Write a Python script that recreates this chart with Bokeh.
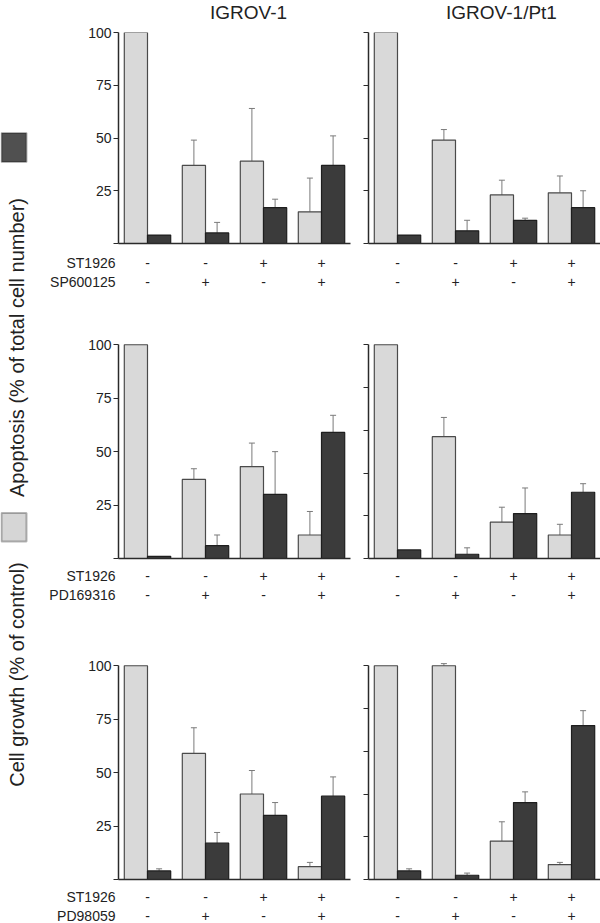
import numpy as np
from bokeh.plotting import figure
from bokeh.models import Range1d, FixedTicker, ColumnDataSource, Whisker, TeeHead, BoxAnnotation
from bokeh.core.properties import value
from bokeh.layouts import row, column
from bokeh.embed import file_html
from bokeh.resources import INLINE

# ---------------- data ----------------
cell_lines = ["IGROV-1", "IGROV-1/Pt1"]
st1926 = ["-", "-", "+", "+"]
inhib_signs = ["-", "+", "-", "+"]
inhibitors = ["SP600125", "PD169316", "PD98059"]
treat_name = "ST1926"

# light bars: cell growth (% of control); dark bars: apoptosis (% of total cell number)
growth_sp_igrov = [100, 37, 39, 15]
growth_sp_igrov_err = [0, 12, 25, 16]
apopt_sp_igrov = [4, 5, 17, 37]
apopt_sp_igrov_err = [0, 5, 4, 14]
growth_sp_pt1 = [100, 49, 23, 24]
growth_sp_pt1_err = [0, 5, 7, 8]
apopt_sp_pt1 = [4, 6, 11, 17]
apopt_sp_pt1_err = [0, 5, 1, 8]

growth_pd169_igrov = [100, 37, 43, 11]
growth_pd169_igrov_err = [0, 5, 11, 11]
apopt_pd169_igrov = [1, 6, 30, 59]
apopt_pd169_igrov_err = [0, 5, 20, 8]
growth_pd169_pt1 = [100, 57, 17, 11]
growth_pd169_pt1_err = [0, 9, 7, 5]
apopt_pd169_pt1 = [4, 2, 21, 31]
apopt_pd169_pt1_err = [0, 3, 12, 4]

growth_pd98_igrov = [100, 59, 40, 6]
growth_pd98_igrov_err = [0, 12, 11, 2]
apopt_pd98_igrov = [4, 17, 30, 39]
apopt_pd98_igrov_err = [1, 5, 6, 9]
growth_pd98_pt1 = [100, 100, 18, 7]
growth_pd98_pt1_err = [0, 1, 9, 1]
apopt_pd98_pt1 = [4, 2, 36, 72]
apopt_pd98_pt1_err = [1, 1, 5, 7]

yticks_25 = [0, 25, 50, 75, 100]
yticks_20 = [0, 20, 40, 60, 80, 100]

y_title_apoptosis = "Apoptosis (% of total cell number)"
y_title_growth = "Cell growth (% of control)"

# ---------------- styles / layout ----------------
FONT = "Liberation Sans"
TXT = "#222222"
LIGHT = "#d9d9d9"
LIGHT_LINE = "#4a4a4a"
DARK = "#3b3b3b"
DARK_LINE = "#1e1e1e"
ERR = "#7a7a7a"
AXIS = "#2a2a2a"

TOTAL_H = 923
STRIP_W = 40
LEFT_W, LEFT_BL, LEFT_BR = 319, 78, 9
RIGHT_W, RIGHT_BL = 241, 9
FRAME_W = 232
PX_UNIT = FRAME_W / 4.0
TITLE_H = 23


def base_fig(w, h, xr, yr, **kw):
    f = figure(width=w, height=h, x_range=xr, y_range=yr,
               output_backend="svg", toolbar_location=None, **kw)
    f.outline_line_color = None
    f.background_fill_color = "white"
    f.border_fill_color = "white"
    return f


def panel(growth, gerr, apopt, aerr, yticks, is_left, top_b, y_max, frame_h):
    bl = LEFT_BL if is_left else RIGHT_BL
    br = LEFT_BR if is_left else 0
    p = base_fig(LEFT_W if is_left else RIGHT_W, top_b + frame_h + 3,
                 Range1d(0.5, 4.5), Range1d(0, y_max),
                 min_border_left=bl, min_border_right=br,
                 min_border_top=top_b, min_border_bottom=3)
    p.xgrid.grid_line_color = None
    p.ygrid.grid_line_color = None

    xa = p.xaxis[0]
    xa.ticker = FixedTicker(ticks=[])
    xa.major_tick_line_color = None
    xa.minor_tick_line_color = None
    xa.major_tick_out = 0
    xa.major_tick_in = 0
    xa.major_label_standoff = 0
    xa.axis_line_color = AXIS
    xa.axis_line_width = 1.5

    ya = p.yaxis[0]
    ya.ticker = FixedTicker(ticks=yticks)
    ya.bounds = (0, 100)
    ya.minor_tick_line_color = None
    ya.major_tick_in = 0
    ya.major_tick_out = 5
    ya.major_tick_line_color = AXIS
    ya.axis_line_color = AXIS
    ya.axis_line_width = 1.5
    ya.major_label_text_font = FONT
    ya.major_label_text_font_size = "14px"
    ya.major_label_text_color = TXT
    if is_left:
        ya.major_label_overrides = {0: ""}
        ya.major_label_standoff = 2
    else:
        ya.major_label_overrides = {t: "" for t in yticks}
        ya.major_label_standoff = 0

    xs = np.arange(1, len(st1926) + 1)
    g = np.array(growth, dtype=float)
    ge = np.array(gerr, dtype=float)
    a = np.array(apopt, dtype=float)
    ae = np.array(aerr, dtype=float)
    src = ColumnDataSource(dict(xl=xs - 0.2, xd=xs + 0.2, g=g, a=a))
    p.vbar(x="xl", top="g", bottom=0, width=0.4, fill_color=LIGHT,
           line_color=LIGHT_LINE, line_width=1.2, source=src)
    p.vbar(x="xd", top="a", bottom=0, width=0.4, fill_color=DARK,
           line_color=DARK_LINE, line_width=1.2, source=src)

    for xpos, val, err in ((xs - 0.2, g, ge), (xs + 0.2, a, ae)):
        m = err > 0
        wsrc = ColumnDataSource(dict(x=xpos[m], lo=val[m], hi=(val + err)[m]))
        p.add_layout(Whisker(source=wsrc, base="x", lower="lo", upper="hi",
                             dimension="height", line_color=ERR, line_width=1,
                             upper_head=TeeHead(size=6, line_color=ERR, line_width=1),
                             lower_head=None))
    return p


def label_fig(is_left, h, off1, off2, inhib_name):
    if is_left:
        w = LEFT_W
        xr = Range1d(0.5 - LEFT_BL / PX_UNIT, 4.5 + LEFT_BR / PX_UNIT)
    else:
        w = RIGHT_W
        xr = Range1d(0.5 - RIGHT_BL / PX_UNIT, 4.5)
    f = base_fig(w, h, xr, Range1d(0, h), x_axis_type=None, y_axis_type=None,
                 min_border_left=0, min_border_right=0, min_border_top=0, min_border_bottom=0)
    xs = np.arange(1, len(st1926) + 1)
    n = len(xs)
    f.text(x=np.concatenate([xs, xs]), y=[h - off1] * n + [h - off2] * n,
           text=st1926 + inhib_signs, text_align="center", text_baseline="middle",
           text_font=value(FONT), text_font_size="14px", text_color=TXT)
    if is_left:
        f.text(x=[0.5 - 3 / PX_UNIT] * 2, y=[h - off1, h - off2],
               text=[treat_name, inhib_name], text_align="right", text_baseline="middle",
               text_font=value(FONT), text_font_size="14px", text_color=TXT)
    return f


rows_spec = [
    # inhibitor, left ticks, right ticks, panel top border, y max, frame px,
    # label fig height, sign offsets, data
    (inhibitors[0], yticks_25, yticks_25, 9, 100, 211, 54, 16, 35,
     (growth_sp_igrov, growth_sp_igrov_err, apopt_sp_igrov, apopt_sp_igrov_err),
     (growth_sp_pt1, growth_sp_pt1_err, apopt_sp_pt1, apopt_sp_pt1_err)),
    (inhibitors[1], yticks_25, yticks_20, 40, 102, 218, 54, 14.7, 33,
     (growth_pd169_igrov, growth_pd169_igrov_err, apopt_pd169_igrov, apopt_pd169_igrov_err),
     (growth_pd169_pt1, growth_pd169_pt1_err, apopt_pd169_pt1, apopt_pd169_pt1_err)),
    (inhibitors[2], yticks_25, yticks_20, 46, 102, 218, 41, 14, 33,
     (growth_pd98_igrov, growth_pd98_igrov_err, apopt_pd98_igrov, apopt_pd98_igrov_err),
     (growth_pd98_pt1, growth_pd98_pt1_err, apopt_pd98_pt1, apopt_pd98_pt1_err)),
]

# title strip above the top panels
title_fig = base_fig(LEFT_W + RIGHT_W, TITLE_H, Range1d(0, LEFT_W + RIGHT_W), Range1d(0, TITLE_H),
                     x_axis_type=None, y_axis_type=None, min_border_left=0,
                     min_border_right=0, min_border_top=0, min_border_bottom=0)
title_fig.text(x=[LEFT_BL + FRAME_W / 2 + 14, LEFT_W + RIGHT_BL + FRAME_W / 2 + 17],
               y=[TITLE_H - 12, TITLE_H - 12], text=cell_lines, text_align="center",
               text_baseline="middle", text_font=value(FONT),
               text_font_size="19px", text_color=TXT)

blocks = [title_fig]
for name, tl, tr, tb, ymax, fh, lh, o1, o2, dl, dr in rows_spec:
    blocks.append(row(panel(*dl, tl, True, tb, ymax, fh), panel(*dr, tr, False, tb, ymax, fh)))
    blocks.append(row(label_fig(True, lh, o1, o2, name), label_fig(False, lh, o1, o2, name)))

# left strip with legend swatches and rotated axis titles
strip = base_fig(STRIP_W, TOTAL_H, Range1d(0, STRIP_W), Range1d(0, TOTAL_H),
                 x_axis_type=None, y_axis_type=None, min_border_left=0,
                 min_border_right=0, min_border_top=0, min_border_bottom=0)
strip.add_layout(BoxAnnotation(left=1, right=26, top=TOTAL_H - 132.5, bottom=TOTAL_H - 161.5,
                               fill_color="#505050", fill_alpha=1, line_color="#111111",
                               line_width=2))
strip.add_layout(BoxAnnotation(left=1, right=26, top=TOTAL_H - 512.5, bottom=TOTAL_H - 541,
                               fill_color="#d6d6d6", fill_alpha=1, line_color="#111111",
                               line_width=2))
strip.text(x=[16.5, 16], y=[TOTAL_H - 347, TOTAL_H - 674],
           text=[y_title_apoptosis, y_title_growth], angle=np.pi / 2,
           text_align="center", text_baseline="middle", text_font=value(FONT),
           text_font_size={"value": "20px"}, text_color=TXT)

layout = row(strip, column(*blocks))

open("out.html", "w").write(file_html(layout, INLINE))
